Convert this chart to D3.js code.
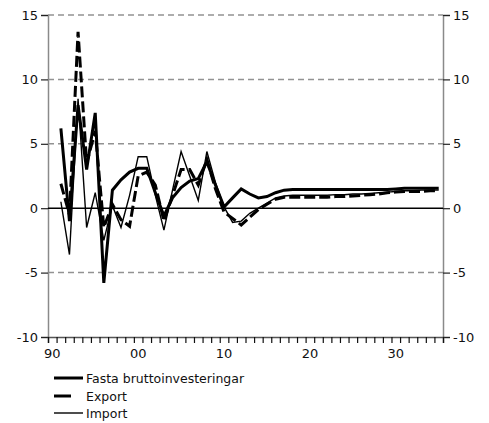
<!DOCTYPE html>
<html>
<head>
<meta charset="utf-8">
<script src="https://cdn.jsdelivr.net/npm/d3@7"></script>
<style>
  html, body { margin: 0; padding: 0; background: #fff; }
  svg { display: block; font-family: "DejaVu Sans", Verdana, sans-serif; }
</style>
</head>
<body>
<svg id="chart" width="489" height="423"></svg>
<script>
// Annual percentage change, 1991–2035
const years = d3.range(1991, 2036);

const investeringar = [
  6.2, -1.0, 8.0, 3.0, 7.4, -5.8, 1.4, 2.2, 2.8, 3.1,
  3.1, 1.2, -0.6, 0.8, 1.6, 2.1, 2.3, 3.6, 1.8, 0.1,
  0.8, 1.5, 1.1, 0.8, 0.9, 1.2, 1.4, 1.45, 1.45, 1.45,
  1.45, 1.45, 1.45, 1.45, 1.45, 1.45, 1.45, 1.45, 1.45, 1.5,
  1.55, 1.55, 1.55, 1.55, 1.55
];

const exportVol = [
  1.9, -0.5, 13.7, 3.5, 6.0, -1.5, 0.3, -0.9, -1.4, 2.5,
  2.8, 1.8, -1.0, 1.0, 3.0, 3.0, 1.8, 3.8, 1.5, -0.3,
  -0.8, -1.3, -0.7, -0.1, 0.3, 0.7, 0.85, 0.85, 0.85, 0.85,
  0.85, 0.85, 0.9, 0.9, 0.95, 1.0, 1.05, 1.1, 1.2, 1.25,
  1.3, 1.3, 1.3, 1.35, 1.35
];

const importVol = [
  0.5, -3.6, 8.5, -1.5, 1.2, -2.5, 0.2, -1.5, 1.0, 4.0,
  4.0, 1.0, -1.7, 1.4, 4.4, 2.5, 0.6, 4.4, 2.0, 0.1,
  -1.1, -1.0, -0.4, 0.0, 0.4, 0.8, 0.95, 1.0, 1.0, 1.0,
  1.0, 1.0, 1.05, 1.05, 1.1, 1.1, 1.15, 1.2, 1.25, 1.3,
  1.35, 1.35, 1.4, 1.4, 1.4
];

const yTicks = [-10, -5, 0, 5, 10, 15];
const xLabelYears = [1990, 2000, 2010, 2020, 2030];
const xLabels = ["90", "00", "10", "20", "30"];

const seriesNames = ["Fasta bruttoinvesteringar", "Export", "Import"];

const svg = d3.select("#chart");
const plotLeft = 48, plotRight = 443, plotTop = 15, plotBottom = 337;

const x = d3.scaleLinear().domain([1989.5, 2035.5]).range([plotLeft, plotRight]);
const y = d3.scaleLinear().domain([-10, 15]).range([plotBottom, plotTop]);

const fontSize = 13;

// horizontal dashed grid
svg.append("g")
  .selectAll("line")
  .data(yTicks.filter(v => v !== 0 && v !== -10))
  .join("line")
  .attr("x1", plotLeft).attr("x2", plotRight)
  .attr("y1", d => y(d)).attr("y2", d => y(d))
  .attr("stroke", "#929292")
  .attr("stroke-width", 1.5)
  .attr("stroke-dasharray", "6,4");

// left axis
const yAxisLeft = d3.axisLeft(y).tickValues(yTicks).tickSize(7).tickPadding(3).tickFormat(d => String(d));
const gl = svg.append("g").attr("transform", `translate(${plotLeft},0)`).call(yAxisLeft);
gl.select(".domain").attr("stroke", "#8a8a8a").attr("stroke-width", 1.5);
gl.selectAll(".tick line").attr("stroke", "#222").attr("stroke-width", 1.2);
gl.selectAll("text").attr("font-size", fontSize).attr("fill", "#111")
  .attr("font-family", "DejaVu Sans, Verdana, sans-serif");

// right axis
const yAxisRight = d3.axisRight(y).tickValues(yTicks).tickSize(7).tickPadding(3).tickFormat(d => String(d));
const gr = svg.append("g").attr("transform", `translate(${plotRight},0)`).call(yAxisRight);
gr.select(".domain").attr("stroke", "#8a8a8a").attr("stroke-width", 1.5);
gr.selectAll(".tick line").attr("stroke", "#222").attr("stroke-width", 1.2);
gr.selectAll("text").attr("font-size", fontSize).attr("fill", "#111")
  .attr("font-family", "DejaVu Sans, Verdana, sans-serif");

// bottom axis: a tick on every year boundary, labels per decade
const boundaries = d3.range(1989.5, 2036, 1);
const xAxis = d3.axisBottom(x).tickValues(boundaries).tickSize(6).tickFormat("");
const gx = svg.append("g").attr("transform", `translate(0,${plotBottom})`).call(xAxis);
gx.select(".domain").attr("stroke", "#555").attr("stroke-width", 1.5);
gx.selectAll(".tick line").attr("stroke", "#111").attr("stroke-width", 1.2);

svg.append("g")
  .selectAll("text")
  .data(xLabelYears)
  .join("text")
  .attr("x", d => x(d))
  .attr("y", plotBottom + 21)
  .attr("text-anchor", "middle")
  .attr("font-size", fontSize)
  .attr("fill", "#111")
  .text((d, i) => xLabels[i]);

// zero line
svg.append("line")
  .attr("x1", plotLeft).attr("x2", plotRight)
  .attr("y1", y(0)).attr("y2", y(0))
  .attr("stroke", "#000").attr("stroke-width", 1.5);

const line = d3.line().x(d => x(d[0])).y(d => y(d[1]));
const styles = [
  { width: 3, dash: null },
  { width: 3, dash: "11,4" },
  { width: 1.4, dash: null }
];
const seriesData = [investeringar, exportVol, importVol];

[2, 1, 0].forEach(i => {
  svg.append("path")
    .datum(years.map((yr, j) => [yr, seriesData[i][j]]))
    .attr("d", line)
    .attr("fill", "none")
    .attr("stroke", "#000")
    .attr("stroke-width", styles[i].width)
    .attr("stroke-dasharray", styles[i].dash);
});

// legend
const legend = svg.append("g").attr("transform", "translate(54,378)");
const legendRows = [0, 18, 35];
seriesNames.forEach((name, i) => {
  const g = legend.append("g").attr("transform", `translate(0,${legendRows[i]})`);
  g.append("line")
    .attr("x1", 0).attr("x2", i === 1 ? 17 : 29)
    .attr("y1", 0).attr("y2", 0)
    .attr("stroke", "#000")
    .attr("stroke-width", styles[i].width);
  g.append("text")
    .attr("x", 32).attr("y", 5)
    .attr("font-size", 12.5)
    .attr("fill", "#111")
    .text(name);
});
</script>
</body>
</html>
